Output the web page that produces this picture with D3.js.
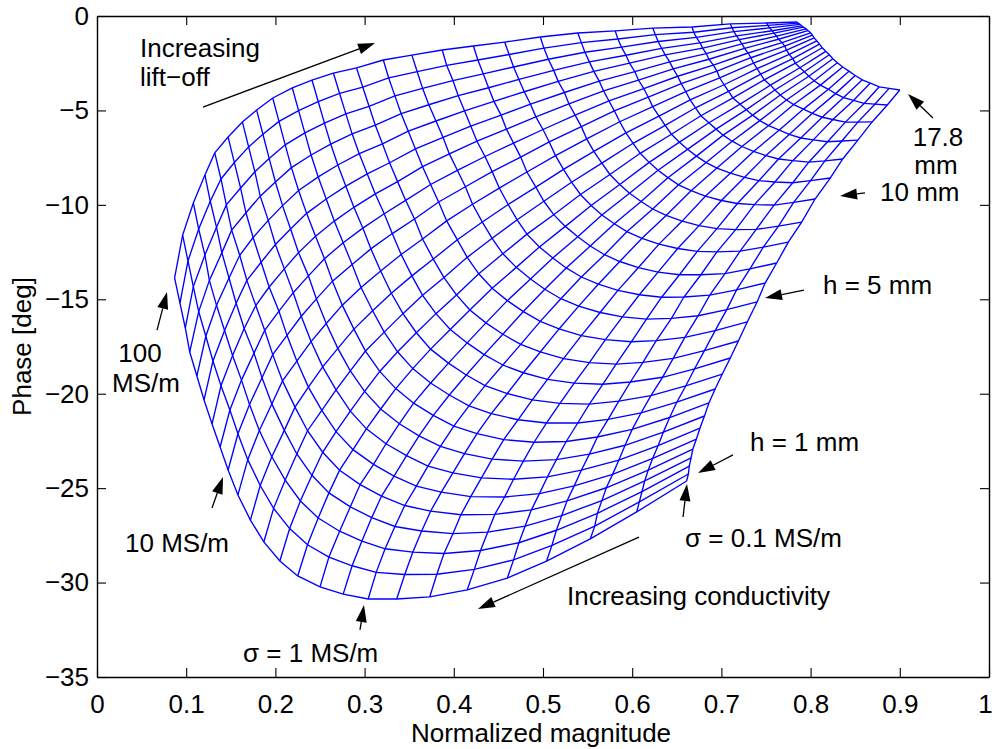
<!DOCTYPE html>
<html><head><meta charset="utf-8">
<script src="https://cdn.jsdelivr.net/npm/d3@7"></script>
<style>
body{margin:0;background:#fff}
svg{display:block}
text{font-family:"Liberation Sans",Arial,Helvetica,sans-serif;fill:#000}
</style></head>
<body><svg id="chart" width="992" height="749"></svg>
<script>
// ---- data ----
const xTicks = [0,0.1,0.2,0.3,0.4,0.5,0.6,0.7,0.8,0.9,1];
const xTickLabels = ["0","0.1","0.2","0.3","0.4","0.5","0.6","0.7","0.8","0.9","1"];
const yTicks = [0,-5,-10,-15,-20,-25,-30,-35];
const yTickLabels = ["0","\u22125","\u221210","\u221215","\u221220","\u221225","\u221230","\u221235"];
// rows: lift-off lines (1 mm ... 17.8 mm); columns: conductivity (100 MS/m ... 0.1 MS/m)
const meshMagnitude = [
[0.087,0.093,0.099,0.104,0.112,0.120,0.129,0.138,0.147,0.158,0.172,0.187,0.205,0.225,0.250,0.276,0.304,0.336,0.373,0.415,0.460,0.504,0.553,0.605,0.661],
[0.096,0.102,0.108,0.114,0.122,0.130,0.139,0.149,0.158,0.169,0.183,0.198,0.216,0.236,0.260,0.286,0.313,0.345,0.381,0.423,0.467,0.510,0.558,0.608,0.663],
[0.108,0.114,0.121,0.126,0.134,0.143,0.152,0.162,0.171,0.182,0.196,0.211,0.228,0.248,0.272,0.297,0.323,0.354,0.389,0.430,0.473,0.515,0.561,0.611,0.664],
[0.121,0.127,0.134,0.140,0.148,0.156,0.165,0.176,0.185,0.196,0.210,0.224,0.241,0.260,0.284,0.308,0.334,0.364,0.399,0.438,0.480,0.521,0.566,0.614,0.666],
[0.132,0.139,0.145,0.151,0.160,0.168,0.178,0.188,0.197,0.208,0.222,0.236,0.253,0.272,0.295,0.319,0.345,0.374,0.408,0.446,0.487,0.527,0.571,0.618,0.668],
[0.147,0.154,0.161,0.167,0.175,0.184,0.193,0.204,0.213,0.224,0.237,0.252,0.268,0.287,0.310,0.333,0.358,0.386,0.419,0.457,0.496,0.535,0.578,0.623,0.672],
[0.163,0.170,0.177,0.183,0.192,0.200,0.210,0.220,0.229,0.240,0.253,0.268,0.284,0.302,0.324,0.347,0.371,0.399,0.431,0.467,0.505,0.543,0.585,0.629,0.676],
[0.179,0.186,0.193,0.200,0.208,0.217,0.226,0.237,0.246,0.257,0.270,0.284,0.300,0.318,0.339,0.361,0.385,0.412,0.443,0.478,0.515,0.552,0.592,0.635,0.681],
[0.197,0.204,0.211,0.218,0.226,0.235,0.245,0.255,0.264,0.275,0.288,0.301,0.317,0.335,0.355,0.377,0.400,0.426,0.456,0.490,0.526,0.561,0.600,0.642,0.686],
[0.219,0.226,0.233,0.240,0.248,0.257,0.266,0.276,0.286,0.296,0.309,0.322,0.337,0.354,0.374,0.395,0.417,0.442,0.472,0.504,0.539,0.573,0.610,0.650,0.693],
[0.241,0.248,0.255,0.262,0.270,0.279,0.288,0.298,0.307,0.318,0.330,0.343,0.358,0.374,0.394,0.414,0.435,0.460,0.488,0.519,0.552,0.585,0.621,0.660,0.701],
[0.265,0.272,0.279,0.286,0.294,0.303,0.312,0.322,0.331,0.341,0.353,0.365,0.380,0.396,0.415,0.434,0.455,0.478,0.505,0.535,0.567,0.598,0.634,0.670,0.710],
[0.291,0.298,0.305,0.312,0.320,0.328,0.337,0.346,0.356,0.365,0.377,0.389,0.403,0.418,0.436,0.455,0.475,0.497,0.523,0.552,0.582,0.612,0.646,0.681,0.719],
[0.321,0.327,0.334,0.341,0.349,0.357,0.365,0.374,0.383,0.392,0.404,0.415,0.428,0.443,0.460,0.478,0.497,0.518,0.543,0.570,0.599,0.627,0.659,0.693,0.729],
[0.353,0.359,0.365,0.372,0.380,0.388,0.395,0.404,0.413,0.421,0.432,0.443,0.455,0.470,0.486,0.502,0.520,0.540,0.564,0.589,0.616,0.644,0.674,0.706,0.740],
[0.387,0.392,0.399,0.405,0.412,0.419,0.426,0.435,0.443,0.451,0.461,0.471,0.482,0.496,0.511,0.526,0.543,0.562,0.584,0.608,0.633,0.658,0.687,0.717,0.749],
[0.422,0.427,0.433,0.439,0.445,0.453,0.459,0.467,0.475,0.482,0.492,0.501,0.512,0.525,0.539,0.553,0.569,0.586,0.607,0.629,0.653,0.677,0.704,0.732,0.762],
[0.457,0.462,0.467,0.473,0.479,0.486,0.492,0.500,0.507,0.514,0.523,0.532,0.542,0.554,0.566,0.580,0.594,0.611,0.630,0.651,0.673,0.695,0.721,0.747,0.775],
[0.497,0.501,0.506,0.512,0.517,0.524,0.529,0.536,0.543,0.549,0.557,0.566,0.575,0.586,0.597,0.610,0.623,0.638,0.656,0.675,0.695,0.716,0.739,0.764,0.790],
[0.539,0.543,0.547,0.552,0.557,0.563,0.568,0.574,0.580,0.586,0.593,0.601,0.609,0.619,0.629,0.640,0.652,0.666,0.682,0.700,0.718,0.737,0.759,0.781,0.805],
[0.581,0.584,0.588,0.593,0.597,0.603,0.607,0.613,0.618,0.623,0.630,0.637,0.644,0.653,0.662,0.672,0.683,0.695,0.710,0.726,0.742,0.760,0.780,0.800,0.822],
[0.623,0.626,0.629,0.633,0.637,0.642,0.646,0.651,0.655,0.660,0.665,0.671,0.677,0.686,0.694,0.702,0.712,0.723,0.736,0.750,0.764,0.780,0.798,0.816,0.836],
[0.667,0.669,0.672,0.676,0.679,0.683,0.686,0.691,0.695,0.698,0.703,0.708,0.713,0.721,0.728,0.735,0.743,0.753,0.765,0.776,0.789,0.803,0.819,0.835,0.853],
[0.710,0.712,0.714,0.717,0.720,0.723,0.726,0.730,0.733,0.736,0.740,0.744,0.748,0.755,0.760,0.766,0.773,0.781,0.792,0.802,0.813,0.825,0.839,0.853,0.869],
[0.751,0.752,0.754,0.757,0.759,0.762,0.764,0.768,0.771,0.773,0.776,0.780,0.783,0.788,0.793,0.798,0.804,0.811,0.820,0.828,0.837,0.848,0.860,0.872,0.886],
[0.785,0.786,0.788,0.790,0.792,0.795,0.797,0.800,0.802,0.804,0.807,0.810,0.813,0.817,0.821,0.825,0.830,0.836,0.843,0.850,0.858,0.867,0.877,0.888,0.900]
];
const meshPhase = [
[-13.87,-15.20,-16.52,-17.79,-19.06,-20.33,-21.60,-22.82,-24.04,-25.36,-26.69,-27.85,-28.86,-29.65,-30.23,-30.61,-30.87,-30.87,-30.76,-30.39,-29.76,-28.86,-27.69,-26.26,-24.62],
[-11.60,-12.97,-14.33,-15.65,-16.96,-18.27,-19.58,-20.86,-22.12,-23.49,-24.86,-26.07,-27.14,-28.00,-28.65,-29.11,-29.46,-29.57,-29.56,-29.30,-28.80,-28.03,-27.01,-25.73,-24.25],
[-9.90,-11.28,-12.66,-14.00,-15.32,-16.65,-17.98,-19.28,-20.57,-21.95,-23.34,-24.57,-25.68,-26.58,-27.28,-27.80,-28.21,-28.39,-28.46,-28.30,-27.89,-27.23,-26.33,-25.18,-23.83],
[-8.42,-9.81,-11.19,-12.53,-13.87,-15.21,-16.55,-17.85,-19.15,-20.54,-21.94,-23.19,-24.32,-25.25,-25.99,-26.56,-27.03,-27.27,-27.41,-27.33,-27.01,-26.45,-25.66,-24.62,-23.40],
[-7.25,-8.63,-10.00,-11.34,-12.67,-14.00,-15.33,-16.64,-17.93,-19.32,-20.71,-21.96,-23.10,-24.05,-24.81,-25.42,-25.92,-26.22,-26.41,-26.39,-26.15,-25.67,-24.98,-24.04,-22.93],
[-6.41,-7.76,-9.11,-10.42,-11.73,-13.04,-14.35,-15.63,-16.91,-18.27,-19.65,-20.88,-22.01,-22.96,-23.74,-24.36,-24.89,-25.21,-25.45,-25.47,-25.29,-24.88,-24.27,-23.42,-22.40],
[-5.61,-6.93,-8.25,-9.54,-10.82,-12.10,-13.39,-14.65,-15.90,-17.24,-18.58,-19.80,-20.92,-21.86,-22.65,-23.28,-23.83,-24.19,-24.46,-24.53,-24.40,-24.05,-23.52,-22.75,-21.82],
[-4.98,-6.26,-7.54,-8.79,-10.04,-11.28,-12.53,-13.76,-14.98,-16.28,-17.60,-18.79,-19.88,-20.81,-21.59,-22.23,-22.79,-23.17,-23.46,-23.57,-23.49,-23.20,-22.73,-22.03,-21.18],
[-4.34,-5.58,-6.82,-8.03,-9.24,-10.45,-11.66,-12.85,-14.04,-15.31,-16.58,-17.74,-18.82,-19.73,-20.50,-21.15,-21.72,-22.11,-22.43,-22.57,-22.53,-22.29,-21.89,-21.26,-20.49],
[-3.81,-5.01,-6.19,-7.36,-8.52,-9.69,-10.86,-12.01,-13.16,-14.38,-15.61,-16.74,-17.78,-18.67,-19.43,-20.07,-20.64,-21.05,-21.38,-21.55,-21.55,-21.36,-21.01,-20.45,-19.75],
[-3.39,-4.53,-5.67,-6.78,-7.89,-9.01,-10.13,-11.23,-12.33,-13.50,-14.68,-15.76,-16.77,-17.64,-18.38,-19.01,-19.57,-19.99,-20.33,-20.51,-20.55,-20.39,-20.10,-19.59,-18.96],
[-3.02,-4.10,-5.18,-6.24,-7.29,-8.36,-9.42,-10.47,-11.52,-12.63,-13.76,-14.79,-15.76,-16.60,-17.31,-17.93,-18.48,-18.89,-19.24,-19.44,-19.50,-19.38,-19.13,-18.68,-18.11],
[-2.75,-3.77,-4.78,-5.78,-6.77,-7.77,-8.77,-9.76,-10.75,-11.81,-12.87,-13.85,-14.77,-15.57,-16.25,-16.85,-17.39,-17.79,-18.14,-18.35,-18.43,-18.34,-18.13,-17.72,-17.21],
[-2.33,-3.28,-4.23,-5.17,-6.10,-7.04,-7.98,-8.92,-9.85,-10.85,-11.85,-12.78,-13.65,-14.42,-15.07,-15.65,-16.17,-16.57,-16.92,-17.14,-17.25,-17.19,-17.02,-16.66,-16.20],
[-2.07,-2.95,-3.83,-4.70,-5.56,-6.43,-7.30,-8.17,-9.04,-9.97,-10.91,-11.77,-12.59,-13.31,-13.93,-14.47,-14.97,-15.36,-15.70,-15.93,-16.05,-16.01,-15.87,-15.55,-15.14],
[-1.80,-2.61,-3.42,-4.22,-5.02,-5.83,-6.63,-7.44,-8.24,-9.11,-9.98,-10.79,-11.55,-12.23,-12.81,-13.34,-13.82,-14.20,-14.53,-14.76,-14.89,-14.88,-14.78,-14.50,-14.14],
[-1.59,-2.33,-3.06,-3.80,-4.52,-5.25,-5.99,-6.73,-7.47,-8.26,-9.06,-9.81,-10.52,-11.14,-11.69,-12.18,-12.64,-13.00,-13.32,-13.56,-13.70,-13.70,-13.64,-13.39,-13.08],
[-1.38,-2.04,-2.70,-3.36,-4.01,-4.67,-5.34,-6.01,-6.67,-7.39,-8.12,-8.80,-9.45,-10.03,-10.54,-11.00,-11.42,-11.77,-12.08,-12.31,-12.46,-12.49,-12.45,-12.24,-11.97],
[-1.11,-1.70,-2.29,-2.88,-3.46,-4.05,-4.65,-5.25,-5.86,-6.51,-7.17,-7.79,-8.39,-8.92,-9.39,-9.82,-10.22,-10.56,-10.86,-11.10,-11.26,-11.31,-11.30,-11.13,-10.91],
[-0.90,-1.41,-1.92,-2.43,-2.93,-3.45,-3.97,-4.50,-5.02,-5.60,-6.19,-6.74,-7.27,-7.75,-8.17,-8.56,-8.94,-9.25,-9.54,-9.77,-9.93,-9.99,-10.01,-9.87,-9.69],
[-0.79,-1.22,-1.65,-2.08,-2.50,-2.95,-3.39,-3.84,-4.30,-4.80,-5.30,-5.79,-6.26,-6.68,-7.06,-7.42,-7.76,-8.05,-8.32,-8.54,-8.72,-8.79,-8.83,-8.72,-8.58],
[-0.64,-0.99,-1.35,-1.71,-2.06,-2.43,-2.80,-3.19,-3.58,-4.00,-4.44,-4.86,-5.28,-5.65,-5.99,-6.31,-6.63,-6.91,-7.17,-7.39,-7.57,-7.66,-7.74,-7.67,-7.57],
[-0.58,-0.86,-1.13,-1.42,-1.70,-1.99,-2.29,-2.60,-2.92,-3.27,-3.64,-3.99,-4.34,-4.67,-4.96,-5.25,-5.54,-5.80,-6.04,-6.27,-6.46,-6.56,-6.66,-6.62,-6.57],
[-0.42,-0.62,-0.83,-1.05,-1.25,-1.48,-1.71,-1.96,-2.21,-2.49,-2.79,-3.08,-3.38,-3.66,-3.92,-4.18,-4.45,-4.69,-4.93,-5.15,-5.36,-5.48,-5.62,-5.62,-5.61],
[-0.37,-0.50,-0.63,-0.78,-0.91,-1.07,-1.23,-1.41,-1.59,-1.81,-2.03,-2.26,-2.50,-2.74,-2.95,-3.19,-3.43,-3.66,-3.88,-4.11,-4.32,-4.47,-4.63,-4.67,-4.71],
[-0.32,-0.38,-0.44,-0.52,-0.59,-0.68,-0.77,-0.89,-1.01,-1.16,-1.32,-1.49,-1.68,-1.87,-2.05,-2.26,-2.48,-2.70,-2.92,-3.15,-3.38,-3.55,-3.75,-3.83,-3.92]
];
// annotation labels (data coordinates)
const labelTexts = [
  {t:"Increasing", m:0.0482, p:-1.69, a:"start"},
  {t:"lift\u2212off", m:0.0482, p:-3.23, a:"start"},
  {t:"17.8", m:0.9428, p:-6.40, a:"middle"},
  {t:"mm", m:0.9406, p:-7.86, a:"middle"},
  {t:"10 mm", m:0.8778, p:-9.32, a:"start"},
  {t:"h = 5 mm", m:0.8139, p:-14.24, a:"start"},
  {t:"h = 1 mm", m:0.7321, p:-22.56, a:"start"},
  {t:"\u03c3 = 0.1 MS/m", m:0.6592, p:-27.64, a:"start"},
  {t:"Increasing conductivity", m:0.5269, p:-30.71, a:"start"},
  {t:"\u03c3 = 1 MS/m", m:0.1637, p:-33.73, a:"start"},
  {t:"10 MS/m", m:0.0314, p:-27.90, a:"start"},
  {t:"100", m:0.0482, p:-17.84, a:"middle"},
  {t:"MS/m", m:0.0549, p:-19.40, a:"middle"}
];
const arrowLines = [
  {m1:0.1188, p1:-4.82, m2:0.3117, p2:-1.43},
  {m1:0.9372, p1:-5.40, m2:0.9092, p2:-4.13},
  {m1:0.8610, p1:-9.37, m2:0.8330, p2:-9.53},
  {m1:0.7926, p1:-14.51, m2:0.7489, p2:-14.93},
  {m1:0.7130, p1:-23.24, m2:0.6738, p2:-24.20},
  {m1:0.6570, p1:-26.53, m2:0.6614, p2:-24.78},
  {m1:0.6076, p1:-27.59, m2:0.4271, p2:-31.40},
  {m1:0.2948, p1:-32.51, m2:0.2993, p2:-31.19},
  {m1:0.1289, p1:-26.05, m2:0.1413, p2:-24.41},
  {m1:0.0673, p1:-16.63, m2:0.0785, p2:-14.61}
];

// ---- drawing ----
const svg = d3.select("#chart");
const L = 97, R = 989, T = 16, B = 677;
const x = d3.scaleLinear().domain([0,1]).range([L,R]);
const y = d3.scaleLinear().domain([0,-35]).range([T,B]);
const FS = 26;

const g = svg.append("g");
const line = d3.line().x(d => x(d[0])).y(d => y(d[1]));
const nRows = meshMagnitude.length, nCols = meshMagnitude[0].length;
// lift-off lines
for (let j = 0; j < nRows; j++) {
  const pts = meshMagnitude[j].map((m, i) => [m, meshPhase[j][i]]);
  g.append("path").attr("d", line(pts)).attr("fill","none")
   .attr("stroke","#0000ff").attr("stroke-width",1.35);
}
// conductivity lines
for (let i = 0; i < nCols; i++) {
  const pts = meshMagnitude.map((row, j) => [row[i], meshPhase[j][i]]);
  g.append("path").attr("d", line(pts)).attr("fill","none")
   .attr("stroke","#0000ff").attr("stroke-width",1.35);
}

// axes
function styleAxis(sel){
  sel.selectAll("path.domain").attr("stroke","#000").attr("stroke-width",1.4);
  sel.selectAll(".tick line").attr("stroke","#000").attr("stroke-width",1.1);
  sel.selectAll(".tick text").style("font-size",FS+"px").style("font-family",'"Liberation Sans",Arial,sans-serif').attr("fill","#000");
}
const xb = svg.append("g").attr("transform",`translate(0,${B})`)
  .call(d3.axisBottom(x).tickValues(xTicks).tickFormat((d,i)=>xTickLabels[i]).tickSizeInner(-9).tickSizeOuter(0).tickPadding(18));
styleAxis(xb);
xb.selectAll(".tick text").filter(d => d === 1).attr("dx","-4");
const xt = svg.append("g").attr("transform",`translate(0,${T})`)
  .call(d3.axisTop(x).tickValues(xTicks).tickFormat("").tickSizeInner(-9).tickSizeOuter(0));
styleAxis(xt);
const yl = svg.append("g").attr("transform",`translate(${L},0)`)
  .call(d3.axisLeft(y).tickValues(yTicks).tickFormat((d,i)=>yTickLabels[i]).tickSizeInner(-9).tickSizeOuter(0).tickPadding(8));
styleAxis(yl);
const yr = svg.append("g").attr("transform",`translate(${R},0)`)
  .call(d3.axisRight(y).tickValues(yTicks).tickFormat("").tickSizeInner(-9).tickSizeOuter(0));
styleAxis(yr);

// axis titles
svg.append("text").attr("x",(L+R)/2 - 2).attr("y",742).attr("text-anchor","middle")
  .style("font-size",FS+"px").text("Normalized magnitude");
svg.append("text").attr("transform",`translate(31,${(T+B)/2}) rotate(-90)`).attr("text-anchor","middle")
  .style("font-size",FS+"px").text("Phase [deg]");

// annotations
svg.append("g").selectAll("text").data(labelTexts).join("text")
  .attr("x", d => x(d.m)).attr("y", d => y(d.p)).attr("dy","0.36em")
  .attr("text-anchor", d => d.a).style("font-size",FS+"px").text(d => d.t);

const ag = svg.append("g");
arrowLines.forEach(d => {
  const x1 = x(d.m1), y1 = y(d.p1), x2 = x(d.m2), y2 = y(d.p2);
  const ang = Math.atan2(y2-y1, x2-x1);
  const hl = 17, hw = 5.5;
  const bx = x2 - hl*Math.cos(ang), by = y2 - hl*Math.sin(ang);
  ag.append("line").attr("x1",x1).attr("y1",y1).attr("x2",bx).attr("y2",by)
    .attr("stroke","#000").attr("stroke-width",1.3);
  const px = -Math.sin(ang), py = Math.cos(ang);
  ag.append("path").attr("d",`M${x2},${y2}L${bx+hw*px},${by+hw*py}L${bx-hw*px},${by-hw*py}Z`).attr("fill","#000");
});
</script>
</body></html>
